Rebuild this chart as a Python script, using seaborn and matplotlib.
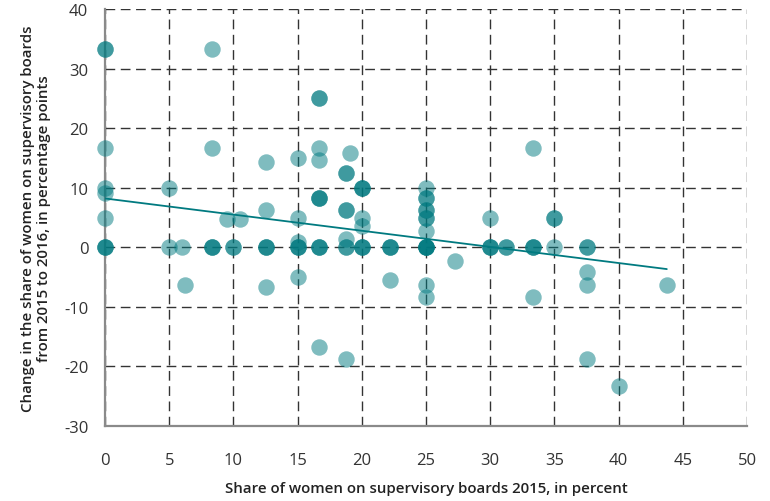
import matplotlib
matplotlib.use("Agg")
import matplotlib.pyplot as plt
import seaborn as sns
import pandas as pd

# Share of women on supervisory boards 2015 (percent) and change 2015->2016 (pp)
share_2015 = [
    0, 0, 0, 0, 0, 0, 0, 0, 0,
    5, 5,
    6, 6.25,
    8.33, 8.33, 8.33, 8.33, 8.33,
    9.52, 10, 10, 10.53,
    12.5, 12.5, 12.5, 12.5, 12.5, 12.5,
    15, 15, 15, 15, 15, 15, 15,
    16.67, 16.67, 16.67, 16.67, 16.67, 16.67, 16.67, 16.67, 16.67, 16.67, 16.67,
    19.05, 18.75, 18.75, 18.75, 18.75, 18.75, 18.75, 18.75, 18.75,
    20, 20, 20, 20, 20, 20, 20, 20,
    22.22, 22.22, 22.22, 22.22,
    25, 25, 25, 25, 25, 25, 25, 25, 25, 25, 25, 25, 25, 25, 25,
    27.27,
    30, 30, 30, 30,
    31.25, 31.25,
    33.33, 33.33, 33.33, 33.33, 33.33,
    35, 35, 35,
    37.5, 37.5, 37.5, 37.5, 37.5,
    40,
    43.75,
]
change_2016 = [
    33.33, 33.33, 16.67, 10, 9.09, 5, 0, 0, 0,
    10, 0,
    0, -6.25,
    33.33, 16.67, 0, 0, 0,
    4.76, 0, 0, 4.7,
    14.29, 6.25, 0, 0, 0, -6.67,
    15, 5, 0.9, 0, 0, 0, -5,
    25, 25, 16.67, 14.6, 8.33, 8.33, 8.33, 0, 0, 0, -16.67,
    15.9, 12.5, 12.5, 6.25, 6.25, 1.45, 0, 0, -18.75,
    10, 10, 10, 5, 3.6, 0, 0, 0,
    0, 0, 0, -5.56,
    10, 8.33, 8.33, 6.25, 6.25, 5, 5, 2.7, 0, 0, 0, 0, 0, -6.25, -8.33,
    -2.27,
    5, 0, 0, 0,
    0, 0,
    16.67, 0, 0, 0, -8.33,
    5, 5, 0,
    0, 0, -4.17, -6.25, -18.75,
    -23.3,
    -6.25,
]
# Linear trend of the change against the 2015 share
trend_intercept = 8.2
trend_slope = -0.271

x_ticks = [0, 5, 10, 15, 20, 25, 30, 35, 40, 45, 50]
y_ticks = [-30, -20, -10, 0, 10, 20, 30, 40]

x_label = "Share of women on supervisory boards 2015, in percent"
y_label = ("Change in the share of women on supervisory boards\n"
           "from 2015 to 2016, in percentage points")

df = pd.DataFrame({"share": share_2015, "change": change_2016})
trend_x = [min(share_2015), max(share_2015)]
trend = pd.DataFrame({"share": trend_x,
                      "change": [trend_intercept + trend_slope * v for v in trend_x]})

sns.set_style("white")
plt.rcParams["font.family"] = ["Open Sans", "DejaVu Sans"]

teal = "#007a80"
fig = plt.figure(figsize=(7.7, 5.02), dpi=100)
ax = fig.add_axes([0.1364, 0.1494, 0.8338, 0.8306])

sns.scatterplot(data=df, x="share", y="change", ax=ax, color=teal,
                alpha=0.5, s=140, linewidth=0, zorder=3, clip_on=False)
sns.lineplot(data=trend, x="share", y="change", ax=ax, color=teal,
             linewidth=1.3, zorder=4)

ax.set_xlim(0, 50)
ax.set_ylim(-30, 40)
ax.set_xticks(x_ticks)
ax.set_yticks(y_ticks)
ax.set_xticklabels([str(v) for v in x_ticks])
ax.set_yticklabels([str(v) for v in y_ticks])

ax.grid(True, which="major", color="#333333", linestyle=(0, (7, 4)),
        linewidth=1.0, zorder=1)
ax.set_axisbelow(True)

for side in ["top", "right"]:
    ax.spines[side].set_visible(False)
for side in ["left", "bottom"]:
    ax.spines[side].set_color("#8a8a8a")
    ax.spines[side].set_linewidth(1.6)
    ax.spines[side].set_zorder(2)

ax.tick_params(axis="x", length=8, width=1.2, color="#8a8a8a",
               labelsize=12, labelcolor="#333333", pad=11)
ax.tick_params(axis="y", length=0, labelsize=12, labelcolor="#333333", pad=12)
ax.set_yticks([-30], minor=True)
ax.tick_params(axis="y", which="minor", length=9, width=1.6, color="#8a8a8a")

ax.set_xlabel(x_label, fontsize=10.8, fontweight="semibold", color="#222222",
              labelpad=9)
ax.set_ylabel(y_label, fontsize=10.8, fontweight="semibold", color="#222222",
              labelpad=9, linespacing=1.25)

fig.savefig("out.png", dpi=100)
